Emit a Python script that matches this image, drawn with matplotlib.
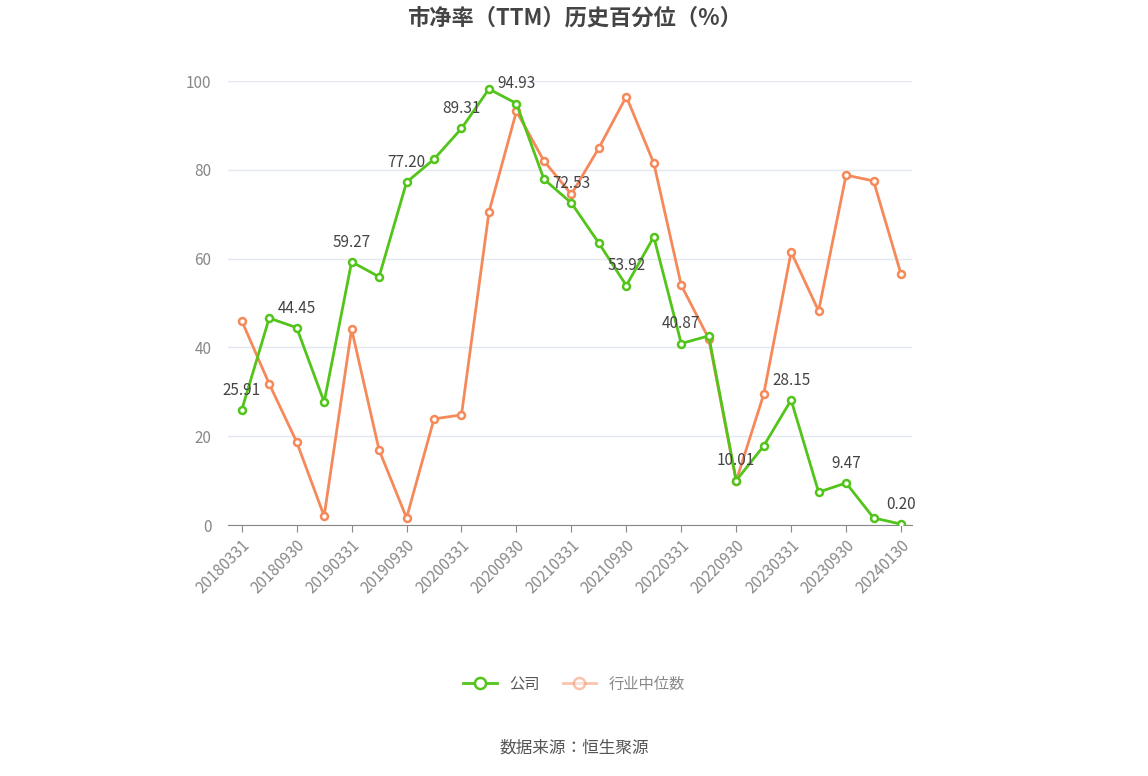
import matplotlib
matplotlib.use("Agg")
import matplotlib.pyplot as plt
from matplotlib import font_manager as fm

cjk = [f.name for f in fm.fontManager.ttflist if "CJK" in f.name]
pref = [n for n in ["Noto Sans CJK SC", "Noto Sans CJK JP", "Noto Sans CJK TC", "Noto Sans CJK KR"] if n in cjk] or cjk
plt.rcParams["font.family"] = "sans-serif"
plt.rcParams["font.sans-serif"] = pref[:1] + ["DejaVu Sans"]

dates = []
for y in range(2018, 2024):
    for md in ["0331", "0630", "0930", "1231"]:
        dates.append(f"{y}{md}")
dates.append("20240130")

company = [25.91, 46.6, 44.45, 27.7, 59.27, 55.9, 77.20, 82.4, 89.31, 98.2, 94.93, 77.9, 72.53,
           63.5, 53.92, 64.9, 40.87, 42.6, 10.01, 17.8, 28.15, 7.4, 9.47, 1.6, 0.20]
industry = [46.0, 31.8, 18.7, 2.0, 44.1, 16.9, 1.6, 23.9, 24.8, 70.5, 93.2, 82.0, 74.5,
            84.9, 96.5, 81.5, 54.0, 42.0, 9.9, 29.4, 61.5, 48.2, 78.8, 77.5, 56.5]

green = "#52c41a"
orange = "#f5895a"

fig = plt.figure(figsize=(11.48, 7.76), dpi=100)
ax = fig.add_axes([228/1148, 1-525/776, 684/1148, 444/776])
x = list(range(len(dates)))
ax.plot(x, industry, color=orange, lw=2, marker="o", ms=5, mfc="white", mec=orange, mew=1.8, zorder=3, label="行业中位数")
ax.plot(x, company, color=green, lw=2, marker="o", ms=5, mfc="white", mec=green, mew=1.8, zorder=4, label="公司")
for i in range(0, len(x), 2):
    ax.annotate(f"{company[i]:.2f}", (x[i], company[i]), xytext=(0, 8), textcoords="offset points",
                ha="center", va="bottom", fontsize=11, color="#444444", zorder=5)

ax.set_xlim(-0.5, len(x) - 0.6)
ax.set_ylim(0, 100)
ax.set_yticks([0, 20, 40, 60, 80, 100])
ax.set_xticks(x[::2])
ax.set_xticklabels(dates[::2], rotation=45, ha="right", rotation_mode="anchor")
ax.tick_params(axis="y", length=0, labelsize=11, labelcolor="#888888", pad=12)
ax.tick_params(axis="x", labelsize=11, labelcolor="#888888", color="#888888", length=5)
ax.grid(axis="y", color="#e3e7ef", lw=1)
ax.set_axisbelow(True)
for s in ["top", "right", "left"]:
    ax.spines[s].set_visible(False)
ax.spines["bottom"].set_color("#888888")

fig.text(0.5, 1-18/776, "市净率（TTM）历史百分位（%）", ha="center", va="center", fontsize=16, fontweight="bold", color="#444444")
handles, labels = ax.get_legend_handles_labels()
leg = fig.legend(handles[::-1], labels[::-1], loc="center", bbox_to_anchor=(0.5, 1-684/776), ncol=2, frameon=False,
                 fontsize=11, handlelength=2.2, columnspacing=1.5, markerscale=1.6)
for t in leg.get_texts():
    t.set_color("#555555")
leg.get_texts()[1].set_color("#888888")
leg.legend_handles[1].set_alpha(0.5)
fig.text(0.5, 1-748/776, "数据来源：恒生聚源", ha="center", va="center", fontsize=12, color="#555555")
fig.savefig("out.png", dpi=100)
